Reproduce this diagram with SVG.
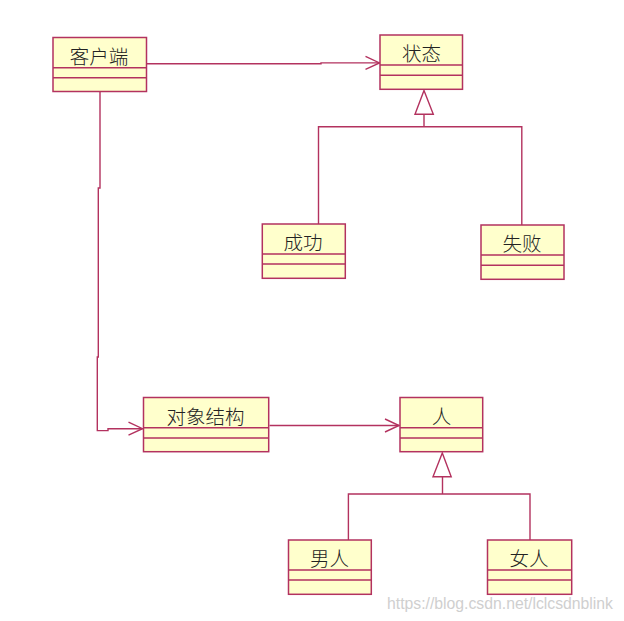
<svg xmlns="http://www.w3.org/2000/svg" width="624" height="621" viewBox="0 0 624 621">
<style>
.box{fill:#ffffcc;stroke:#b3325f;stroke-width:1.5}
.div{stroke:#b3325f;stroke-width:1.5;fill:none}
.ln{stroke:#b3325f;stroke-width:1.4;fill:none}
.tri{fill:#ffffff;stroke:#b3325f;stroke-width:1.4}
.lbl{font-family:"Noto Sans CJK SC","Noto Sans CJK JP",sans-serif;font-size:19.5px;font-weight:300;fill:#222;text-anchor:middle;dominant-baseline:central}
.wm{font-family:"Liberation Sans",Arial,sans-serif;font-size:16px;fill:#cfcfcf}
</style>
<defs>
<marker id="open" markerUnits="userSpaceOnUse" markerWidth="20" markerHeight="20" viewBox="-16 -10 20 20" refX="0" refY="0" orient="auto">
<path d="M-14,-6.5 L0,0 L-14,6.5" fill="none" stroke="#b3325f" stroke-width="1.4"/>
</marker>
</defs>
<rect width="624" height="621" fill="#ffffff"/>
<g id="connectors">
<path class="ln" d="M147,63.8 H321 V62.9 H379.5" marker-end="url(#open)"/>
<path class="ln" d="M100,92 V188 H98.3 V357 H97.3 V430.6 H108 V428.7 H142.5" marker-end="url(#open)"/>
<path class="ln" d="M269.5,425.5 H399" marker-end="url(#open)"/>
<polygon class="tri" points="424,90.5 433.3,114.3 415,114.3"/>
<path class="ln" d="M424,114.3 V126.7 M318.5,224 V126.7 H521.8 V225"/>
<polygon class="tri" points="442.3,453 451.2,476.7 433,476.7"/>
<path class="ln" d="M442.5,476.7 V494 M348.4,540 V494 H530 V540"/>
</g>
<g id="client">
<rect class="box" x="53" y="37.5" width="93.5" height="54"/>
<path class="div" d="M53,67.7 H146.5 M53,77.7 H146.5"/>
<text class="lbl" x="99" y="55">客户端</text>
</g>
<g id="state">
<rect class="box" x="380" y="35" width="82.5" height="54.3"/>
<path class="div" d="M380,65 H462.5 M380,75.3 H462.5"/>
<text class="lbl" x="421.5" y="52.5">状态</text>
</g>
<g id="success">
<rect class="box" x="262.3" y="224" width="83" height="54.3"/>
<path class="div" d="M262.3,254 H345.3 M262.3,264 H345.3"/>
<text class="lbl" x="303" y="241.5">成功</text>
</g>
<g id="failure">
<rect class="box" x="481" y="225" width="83" height="54.3"/>
<path class="div" d="M481,255 H564 M481,265.3 H564"/>
<text class="lbl" x="522" y="242.5">失败</text>
</g>
<g id="objstruct">
<rect class="box" x="143.5" y="397.5" width="125.2" height="54.2"/>
<path class="div" d="M143.5,427.7 H268.7 M143.5,438 H268.7"/>
<text class="lbl" x="205.5" y="415.5">对象结构</text>
</g>
<g id="person">
<rect class="box" x="400" y="397.5" width="82.7" height="54.2"/>
<path class="div" d="M400,427.7 H482.7 M400,438 H482.7"/>
<text class="lbl" x="441.5" y="415">人</text>
</g>
<g id="man">
<rect class="box" x="288.5" y="540" width="82.8" height="54.3"/>
<path class="div" d="M288.5,570 H371.3 M288.5,580 H371.3"/>
<text class="lbl" x="329.5" y="557.5">男人</text>
</g>
<g id="woman">
<rect class="box" x="487.5" y="540" width="84.2" height="54.3"/>
<path class="div" d="M487.5,570 H571.7 M487.5,580 H571.7"/>
<text class="lbl" x="529" y="557.5">女人</text>
</g>
<text class="wm" x="387" y="609" textLength="226" lengthAdjust="spacingAndGlyphs">https://blog.csdn.net/lclcsdnblink</text>
</svg>
